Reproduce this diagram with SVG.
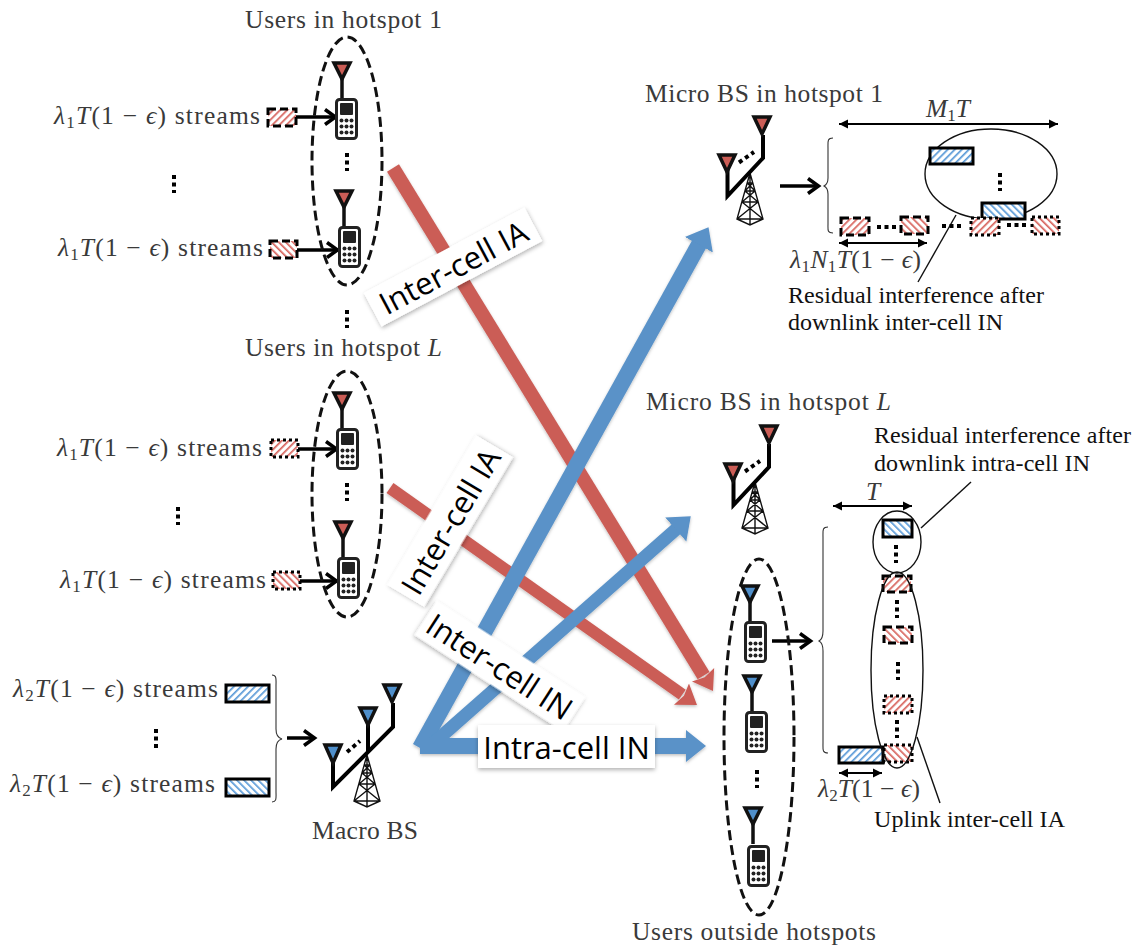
<svg xmlns="http://www.w3.org/2000/svg" width="1135" height="946" viewBox="0 0 1135 946">
<style>
text{font-family:"Liberation Serif","Times New Roman",serif}
.g{fill:#3a3a3a;font-size:25.500px}
.k{fill:#111;font-size:24px}
.i{font-style:italic}
.s{font-size:17px}
.lb{font-family:"Open Sans","Noto Sans",sans-serif;font-size:31px;fill:#000;text-anchor:middle;dominant-baseline:central}
.box{fill:#fff;filter:url(#sh)}
.de{fill:none;stroke:#111;stroke-width:3;stroke-dasharray:10 5}
.te{fill:none;stroke:#111;stroke-width:1.4}
.l{stroke:#111;stroke-width:1.4;fill:none}
.a{stroke:#000;stroke-width:3.500;fill:none;marker-end:url(#oa)}
.d{stroke:#000;stroke-width:2.200;fill:none;marker-start:url(#ha);marker-end:url(#he)}
.dot{stroke:#000;stroke-width:4;stroke-dasharray:4 3.5;fill:none}
.R{stroke:#cb5d56;fill:none}
.B{stroke:#5a92c8;fill:none}
.rf{fill:#cb5d56}
.bf{fill:#4f8fcb}
.br{fill:none;stroke:#333;stroke-width:1.1}
.sol{stroke:#000;stroke-width:3}
.das{stroke:#000;stroke-width:3;stroke-dasharray:8 4}
.dtd{stroke:#000;stroke-width:3;stroke-dasharray:3 3}
.rd{fill:url(#rd)}.ru{fill:url(#ru)}.bd{fill:url(#bd)}.bu{fill:url(#bu)}
</style>
<defs>
<filter id="sh" x="-10%" y="-20%" width="120%" height="140%"><feDropShadow dx="0" dy="2" stdDeviation="2" flood-color="#000" flood-opacity=".3"/></filter>
<filter id="sa" x="-10%" y="-10%" width="120%" height="120%"><feDropShadow dx="0" dy="1.5" stdDeviation="1.5" flood-color="#000" flood-opacity=".25"/></filter>
<pattern id="rd" width="5" height="5" patternUnits="userSpaceOnUse" patternTransform="rotate(45)"><rect width="5" height="5" fill="#fff"/><rect width="1.7" height="5" fill="#d8655e"/></pattern>
<pattern id="ru" width="5" height="5" patternUnits="userSpaceOnUse" patternTransform="rotate(-45)"><rect width="5" height="5" fill="#fff"/><rect width="1.7" height="5" fill="#d8655e"/></pattern>
<pattern id="bd" width="5" height="5" patternUnits="userSpaceOnUse" patternTransform="rotate(45)"><rect width="5" height="5" fill="#fff"/><rect width="1.7" height="5" fill="#5a9ad8"/></pattern>
<pattern id="bu" width="5" height="5" patternUnits="userSpaceOnUse" patternTransform="rotate(-45)"><rect width="5" height="5" fill="#fff"/><rect width="1.7" height="5" fill="#5a9ad8"/></pattern>
<marker id="mr" markerUnits="userSpaceOnUse" markerWidth="24" markerHeight="34" refX="1" refY="17" orient="auto"><path d="M0,4L19,17L0,30L3,17Z" fill="#cb5d56"/></marker>
<marker id="mb" markerUnits="userSpaceOnUse" markerWidth="24" markerHeight="36" refX="1" refY="18" orient="auto"><path d="M0,2L20,18L0,34Z" fill="#5a92c8"/></marker>
<marker id="oa" markerUnits="userSpaceOnUse" markerWidth="18" markerHeight="18" refX="14" refY="9" orient="auto"><path d="M4,1.5L14.500,9L4,16.5" fill="none" stroke="#000" stroke-width="3.500"/></marker>
<marker id="he" markerUnits="userSpaceOnUse" markerWidth="10" markerHeight="10" refX="9" refY="5" orient="auto"><path d="M0,0.5L9,5L0,9.5Z"/></marker>
<marker id="ha" markerUnits="userSpaceOnUse" markerWidth="10" markerHeight="10" refX="1" refY="5" orient="auto"><path d="M10,0.5L1,5L10,9.5Z"/></marker>
<g id="ant"><path d="M-8,1H8L0,17Z" stroke="#111" stroke-width="3.500"/><path d="M0,17V37" stroke="#111" stroke-width="3.500" fill="none"/></g>
<g id="phone"><rect x="1.5" y="1.5" width="20" height="39" rx="3" fill="#fff" stroke="#222" stroke-width="3"/><rect x="5" y="5" width="13" height="12" rx="1" fill="#222"/><g fill="#222"><circle cx="6.5" cy="22.500" r="2"/><circle cx="11.5" cy="22.500" r="2"/><circle cx="16.5" cy="22.500" r="2"/><circle cx="6.5" cy="28.500" r="2"/><circle cx="11.5" cy="28.500" r="2"/><circle cx="16.5" cy="28.500" r="2"/><circle cx="6.5" cy="34.500" r="2"/><circle cx="11.5" cy="34.500" r="2"/><circle cx="16.5" cy="34.500" r="2"/></g></g>
<g id="tower"><path class="te" d="M0,0L-13,46L0,52L13,46ZM0,0V52M-2.7,10H2.7M-5,18H5M-8,29H8M-13,46H13M-2.7,10L5,18M2.7,10L-5,18M-5,18L8,29M5,18L-8,29M-8,29L13,46M8,29L-13,46"/></g>
<g id="mast"><path d="M-35.5,-18V23L0,-15V-38" fill="none" stroke="#000" stroke-width="4"/><path d="M-24,-10.5L-9,-21" class="dot"/></g>
</defs>
<rect width="1135" height="946" fill="#fff"/>

<g id="connectors">
<g filter="url(#sa)">
<line x1="393" y1="168" x2="703.6" y2="675.6" class="R" stroke-width="14" marker-end="url(#mr)"/>
<line x1="390" y1="488" x2="682.3" y2="694.6" class="R" stroke-width="12" marker-end="url(#mr)"/>
<line x1="420" y1="748" x2="699.3" y2="243.8" class="B" stroke-width="16" marker-end="url(#mb)"/>
<line x1="428" y1="748" x2="676.5" y2="528.9" class="B" stroke-width="13" marker-end="url(#mb)"/>
<line x1="420" y1="746" x2="687" y2="746" class="B" stroke-width="16" marker-end="url(#mb)"/>
</g>
<path class="a" d="M296,117H335"/><path class="a" d="M297,250H337"/>
<path class="a" d="M298,449H336"/><path class="a" d="M300,581H336"/>
<path class="a" d="M287,738H314"/><path class="a" d="M780,186H818"/><path class="a" d="M772,641H810"/>
<path class="d" d="M839,124H1058"/><path class="d" d="M839,243H927"/><path class="d" d="M833,506H912"/><path class="d" d="M839,773H882"/>
<path class="l" d="M956,215L918,282"/><path class="l" d="M971,482L921,528"/><path class="l" d="M917,737L940,803"/>
</g>

<g id="hotspot-1-users">
<ellipse class="de" cx="347" cy="161" rx="35" ry="124"/>
<use href="#ant" class="rf" transform="translate(342,62)"/><use href="#phone" x="335" y="98"/>
<use href="#ant" class="rf" transform="translate(344,190)"/><use href="#phone" x="338" y="226"/>
<path class="dot" d="M347,153V171"/>
<rect class="rd das" x="268" y="109" width="28" height="17"/>
<rect class="ru das" x="270" y="241" width="27" height="17"/>
<text class="g" x="245" y="28" textLength="197">Users in hotspot 1</text>
<text class="g" x="54" y="124" textLength="206"><tspan class="i">λ</tspan><tspan class="s" dy="4">1</tspan><tspan class="i" dy="-4">T</tspan>(1 − <tspan class="i">ϵ</tspan>) streams</text>
<text class="g" x="58" y="256" textLength="205"><tspan class="i">λ</tspan><tspan class="s" dy="4">1</tspan><tspan class="i" dy="-4">T</tspan>(1 − <tspan class="i">ϵ</tspan>) streams</text>
<path class="dot" d="M174,175V193"/>
</g>
<path id="hotspot-gap" class="dot" d="M347,310V328"/>

<g id="hotspot-L-users">
<ellipse class="de" cx="347" cy="494" rx="35" ry="123"/>
<use href="#ant" class="rf" transform="translate(342,392)"/><use href="#phone" x="336" y="428"/>
<use href="#ant" class="rf" transform="translate(343,521)"/><use href="#phone" x="337" y="557"/>
<path class="dot" d="M347,483V501"/>
<rect class="rd dtd" x="271" y="440" width="27" height="17"/>
<rect class="ru dtd" x="273" y="572" width="27" height="17"/>
<text class="g" x="245" y="356" textLength="197">Users in hotspot <tspan class="i">L</tspan></text>
<text class="g" x="57" y="456" textLength="205"><tspan class="i">λ</tspan><tspan class="s" dy="4">1</tspan><tspan class="i" dy="-4">T</tspan>(1 − <tspan class="i">ϵ</tspan>) streams</text>
<text class="g" x="60" y="588" textLength="206"><tspan class="i">λ</tspan><tspan class="s" dy="4">1</tspan><tspan class="i" dy="-4">T</tspan>(1 − <tspan class="i">ϵ</tspan>) streams</text>
<path class="dot" d="M178,507V525"/>
</g>

<g id="macro-bs">
<rect class="bd sol" x="226" y="685" width="43" height="17"/>
<rect class="bu sol" x="226" y="779" width="43" height="17"/>
<text class="g" x="13" y="697" textLength="205"><tspan class="i">λ</tspan><tspan class="s" dy="4">2</tspan><tspan class="i" dy="-4">T</tspan>(1 − <tspan class="i">ϵ</tspan>) streams</text>
<text class="g" x="10" y="792" textLength="205"><tspan class="i">λ</tspan><tspan class="s" dy="4">2</tspan><tspan class="i" dy="-4">T</tspan>(1 − <tspan class="i">ϵ</tspan>) streams</text>
<path class="dot" d="M156,729V748"/>
<path class="br" d="M272,675C277,675 276,680 276,686V729C276,735 278,738 282,739C278,740 276,743 276,749V791C276,798 277,802 272,802"/>
<use href="#tower" transform="translate(367,755)"/>
<path d="M333,763V787L393,727V703" fill="none" stroke="#000" stroke-width="4"/>
<path d="M368,725V752" fill="none" stroke="#000" stroke-width="4"/>
<path class="dot" d="M347,752L360,741"/>
<path class="bf" d="M325,745H341L333,763Z" stroke="#111" stroke-width="3.500"/>
<path class="bf" d="M360,708H376L368,725Z" stroke="#111" stroke-width="3.500"/>
<path class="bf" d="M384,685H400L392,702Z" stroke="#111" stroke-width="3.500"/>
<text class="g" x="312" y="839" textLength="106">Macro BS</text>
</g>

<g id="micro-bs-1">
<text class="g" x="645" y="102" textLength="238">Micro BS in hotspot 1</text>
<use href="#tower" transform="translate(750,173)"/>
<use href="#mast" transform="translate(763,173)"/>
<path class="rf" d="M719,155H735L727,172Z" stroke="#111" stroke-width="3.500"/>
<path class="rf" d="M754,117H770L762,134Z" stroke="#111" stroke-width="3.500"/>
<path class="br" d="M833,138C827,138 828,142 828,148V178C828,183 826,185 824,186C826,187 828,189 828,194V224C828,230 827,233 833,233"/>
<ellipse class="te" cx="991" cy="174" rx="66" ry="45"/>
<rect class="bd sol" x="930" y="148" width="43" height="16"/>
<rect class="bu sol" x="982" y="203" width="43" height="16"/>
<rect class="rd das" x="841" y="218" width="28" height="17"/>
<rect class="ru das" x="901" y="217" width="27" height="17"/>
<rect class="rd dtd" x="971" y="218" width="28" height="17"/>
<rect class="ru dtd" x="1032" y="217" width="27" height="17"/>
<path class="dot" d="M877,227H896"/><path class="dot" d="M942,226H961"/><path class="dot" d="M1007,225H1026"/><path class="dot" d="M1000,173V191"/>
<text class="g" x="926" y="117"><tspan class="i">M</tspan><tspan class="s" dy="4">1</tspan><tspan class="i" dy="-4">T</tspan></text>
<text class="g" x="790" y="268" textLength="131"><tspan class="i">λ</tspan><tspan class="s" dy="4">1</tspan><tspan class="i" dy="-4">N</tspan><tspan class="s" dy="4">1</tspan><tspan class="i" dy="-4">T</tspan>(1 − <tspan class="i">ϵ</tspan>)</text>
<text class="k" x="788" y="303" textLength="256">Residual interference after</text>
<text class="k" x="788" y="330" textLength="215">downlink inter-cell IN</text>
</g>

<g id="micro-bs-L">
<text class="g" x="646" y="410" textLength="245">Micro BS in hotspot <tspan class="i">L</tspan></text>
<use href="#tower" transform="translate(755,482)"/>
<use href="#mast" transform="translate(769,482)"/>
<path class="rf" d="M725,464H741L733,481Z" stroke="#111" stroke-width="3.500"/>
<path class="rf" d="M761,426H777L769,443Z" stroke="#111" stroke-width="3.500"/>
</g>

<g id="outside-users">
<ellipse class="de" cx="759" cy="737" rx="35" ry="178"/>
<use href="#ant" class="bf" transform="translate(750,585)"/><use href="#phone" x="744" y="621"/>
<use href="#ant" class="bf" transform="translate(752,675)"/><use href="#phone" x="745" y="711"/>
<use href="#ant" class="bf" transform="translate(753,807)"/><use href="#phone" x="747" y="845"/>
<path class="dot" d="M757,770V788"/>
<text class="g" x="632" y="940" textLength="244">Users outside hotspots</text>
</g>

<g id="outside-frames">
<path class="br" d="M828,527C822,527 823,531 823,537V631C823,637 821,640 819,641C821,642 823,645 823,651V743C823,749 822,753 828,753"/>
<rect class="bu sol" x="883" y="520" width="29" height="17"/>
<rect class="rd das" x="883" y="576" width="28" height="16"/>
<rect class="ru das" x="884" y="627" width="28" height="16"/>
<rect class="rd dtd" x="884" y="696" width="28" height="17"/>
<rect class="ru dtd" x="884" y="745" width="28" height="17"/>
<rect class="bd sol" x="839" y="747" width="44" height="16"/>
<ellipse class="te" cx="897" cy="542" rx="24" ry="31"/>
<ellipse class="te" cx="897" cy="670" rx="26" ry="98"/>
<path class="dot" d="M896,545V563"/><path class="dot" d="M897,600V618"/><path class="dot" d="M898,662V680"/><path class="dot" d="M897,720V738"/>
<text class="k" x="874" y="443" textLength="257">Residual interference after</text>
<text class="k" x="874" y="471" textLength="216">downlink intra-cell IN</text>
<text class="g i" x="866" y="500">T</text>
<text class="g" x="818" y="797" textLength="102"><tspan class="i">λ</tspan><tspan class="s" dy="4">2</tspan><tspan class="i" dy="-4">T</tspan>(1 − <tspan class="i">ϵ</tspan>)</text>
<text class="k" x="874" y="827" textLength="191">Uplink inter-cell IA</text>
</g>

<g id="label-ia-1" transform="translate(453,267) rotate(-28)"><rect class="box" x="-91" y="-19" width="182" height="38"/><text class="lb">Inter-cell IA</text></g>
<g id="label-ia-2" transform="translate(450,521) rotate(-59.3)"><rect class="box" x="-87" y="-21.500" width="174" height="43"/><text class="lb">Inter-cell IA</text></g>
<g id="label-in" transform="translate(500,666) rotate(33)"><rect class="box" x="-88.500" y="-20.500" width="177" height="41"/><text class="lb">Inter-cell IN</text></g>
<g id="label-intra" transform="translate(566.500,746.500)"><rect class="box" x="-88.500" y="-21.500" width="177" height="43"/><text class="lb">Intra-cell IN</text></g>
</svg>
